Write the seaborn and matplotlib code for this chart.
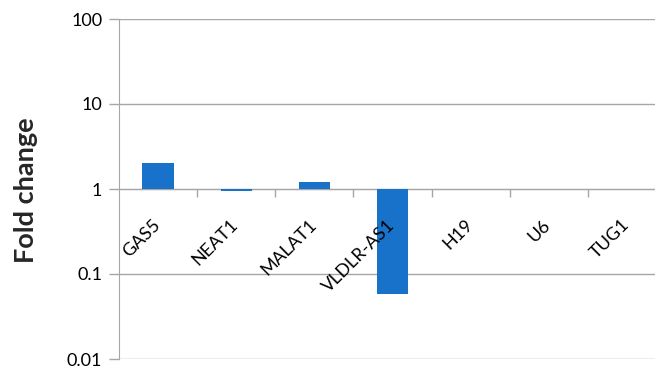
import matplotlib
matplotlib.use("Agg")
import numpy as np
import pandas as pd
import matplotlib.pyplot as plt
import matplotlib.transforms as mtransforms
from matplotlib.ticker import FixedLocator, NullLocator
import seaborn as sns

genes = ["GAS5", "NEAT1", "MALAT1", "VLDLR-AS1", "H19", "U6", "TUG1"]
fold_change = [2.02, 0.95, 1.22, 0.058, 1.0, 1.0, 1.01]
y_ticks = [0.01, 0.1, 1, 10, 100]
y_tick_labels = ["0.01", "0.1", "1", "10", "100"]

bar_color = "#1872C9"
grid_color = "#a6a6a6"

sns.set_style("white")
plt.rcParams["font.family"] = ["Lato", "DejaVu Sans"]

fig = plt.figure(figsize=(6.55, 3.69), dpi=100)
ax = fig.add_axes([119 / 655, 10 / 369, 547 / 655, 340 / 369])

df = pd.DataFrame({"gene": genes, "fold": fold_change})
sns.barplot(data=df, x="gene", y="fold", color=bar_color, saturation=1,
            width=0.4, linewidth=0, ax=ax)

# Excel-style: bars grow from 1 on the log axis
for p, v in zip(ax.patches, fold_change):
    p.set_y(1)
    p.set_height(v - 1)
    p.set_zorder(1)

ax.set_yscale("log")
ax.set_ylim(0.01, 100)
ax.set_xlim(-0.5, 6.5)

# gridlines under the bars, axis labels on top of them
ax.set_axisbelow(False)
for t in y_ticks:
    ax.axhline(t, color=grid_color, linewidth=1, zorder=0)

ax.yaxis.set_major_locator(FixedLocator(y_ticks))
ax.yaxis.set_minor_locator(NullLocator())
ax.set_yticklabels(y_tick_labels)
ax.tick_params(axis="y", which="major", left=True, length=7, width=1,
               color=grid_color, pad=5, labelsize=13, labelcolor="black")

for side in ["top", "right"]:
    ax.spines[side].set_visible(False)
ax.spines["left"].set_color(grid_color)
ax.spines["left"].set_zorder(0)
ax.spines["bottom"].set_color(grid_color)
ax.spines["bottom"].set_zorder(0)
ax.spines["bottom"].set_position(("data", 1))

ax.set_xticks(range(len(genes)))
ax.set_xticklabels(genes, rotation=45, ha="right", va="top")
ax.xaxis.set_minor_locator(FixedLocator(np.arange(0.5, len(genes) - 0.5, 1)))
ax.tick_params(axis="x", which="major", length=0, pad=20, labelsize=13,
               labelcolor="black")
ax.tick_params(axis="x", which="minor", bottom=True, length=6, width=1,
               color=grid_color, direction="out")
shift = mtransforms.ScaledTranslation(0.05, 0, fig.dpi_scale_trans)
for lbl in ax.get_xticklabels():
    lbl.set_transform(lbl.get_transform() + shift)

ax.set_xlabel("")
ax.set_ylabel("Fold change", fontsize=19.5, fontweight="bold", va="center")
ax.yaxis.set_label_coords(-0.17, 0.497)

fig.savefig("out.png", dpi=100)
